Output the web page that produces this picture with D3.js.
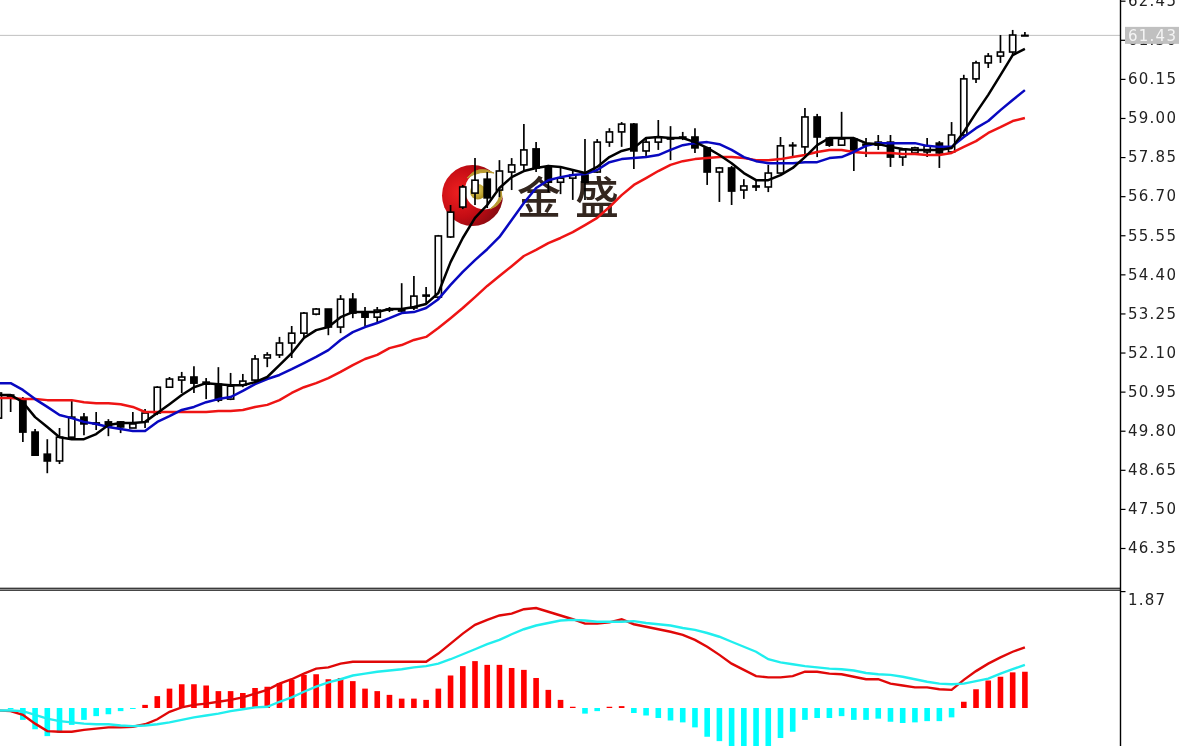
<!DOCTYPE html>
<html><head><meta charset="utf-8">
<script src="https://cdn.jsdelivr.net/npm/d3@7/dist/d3.min.js"></script>
<style>html,body{margin:0;padding:0;background:#fff;overflow:hidden}svg{display:block;filter:blur(0.35px)}</style>
</head><body><div id="c"></div>
<script>
const priceTicks=[62.45,61.30,60.15,59.00,57.85,56.70,55.55,54.40,53.25,52.10,50.95,49.80,48.65,47.50,46.35];
const macdTicks=[1.87];
const lastPrice=61.43;
const open=[50.17,50.85,50.73,49.76,49.11,48.91,49.61,50.20,50.03,50.06,50.06,49.88,50.06,50.32,51.08,51.29,51.38,51.23,51.17,50.73,51.14,51.29,51.94,52.03,52.38,52.67,53.23,53.38,52.85,53.67,53.29,53.14,53.35,53.38,53.41,53.76,53.73,55.50,56.38,56.79,57.20,56.88,57.41,57.62,58.09,57.56,57.11,57.23,57.32,57.41,58.29,58.59,58.82,58.03,58.29,58.38,58.41,58.44,58.12,57.41,57.53,56.88,56.97,56.97,57.38,58.18,58.15,59.03,58.41,58.20,58.38,58.20,58.20,58.29,57.85,57.97,58.00,58.26,58.00,58.50,60.15,60.62,60.82,60.94,61.43];
const high=[50.94,50.85,50.79,49.85,49.55,49.88,50.70,50.32,50.35,50.14,50.08,50.35,50.44,51.11,51.38,51.53,51.70,51.35,51.67,51.50,51.47,52.03,52.11,52.56,52.88,53.29,53.41,53.38,53.79,53.85,53.44,53.44,53.44,54.14,54.35,54.03,55.56,56.44,57.03,57.82,57.41,57.76,57.82,58.82,58.29,57.62,57.53,57.47,58.38,58.38,58.70,58.88,58.85,58.44,58.94,58.76,58.59,58.70,58.15,57.56,57.59,57.20,57.17,57.62,58.44,58.29,59.29,59.12,58.44,59.18,58.41,58.41,58.50,58.50,58.06,58.15,58.41,58.32,58.88,60.27,60.68,60.91,61.44,61.59,61.53];
const low=[50.14,50.35,49.47,49.08,48.55,48.82,49.58,49.67,49.82,49.64,49.73,49.88,49.88,50.26,51.06,50.91,50.91,50.73,50.64,50.70,51.08,51.20,51.67,51.94,51.94,52.53,53.20,52.61,52.67,53.11,52.88,52.99,53.29,53.29,53.35,53.53,53.67,55.47,56.32,56.44,56.35,56.67,56.88,57.41,57.41,56.82,56.76,56.59,56.59,57.38,58.15,58.15,57.50,57.85,58.06,57.76,58.35,57.97,57.03,56.53,56.44,56.62,56.85,56.82,57.38,57.85,57.85,57.85,58.15,58.18,57.44,57.85,58.06,57.56,57.59,57.91,57.85,57.53,58.00,58.44,60.03,60.47,60.62,60.85,61.43];
const close=[50.91,50.76,49.76,49.08,48.91,49.61,50.20,50.00,50.00,49.94,49.91,50.00,50.32,51.08,51.32,51.38,51.20,51.17,50.70,51.11,51.26,51.91,52.03,52.38,52.67,53.26,53.38,52.85,53.67,53.26,53.14,53.35,53.38,53.32,53.76,53.79,55.53,56.23,56.97,57.17,56.65,57.44,57.62,58.06,57.53,57.11,57.23,57.32,57.11,58.29,58.59,58.82,58.03,58.29,58.44,58.41,58.44,58.12,57.41,57.53,56.85,57.00,57.00,57.38,58.18,58.20,59.03,58.44,58.20,58.38,58.00,58.23,58.29,57.85,58.06,58.12,58.18,57.97,58.50,60.15,60.62,60.82,60.94,61.44,61.43];
const maFast=[50.85,50.85,50.64,50.20,49.91,49.61,49.55,49.55,49.70,49.97,50.03,50.03,50.06,50.32,50.58,50.85,51.08,51.20,51.17,51.14,51.14,51.23,51.38,51.73,52.08,52.53,52.76,52.85,53.14,53.29,53.29,53.29,53.38,53.38,53.44,53.53,53.85,54.76,55.47,56.06,56.44,56.94,57.26,57.44,57.53,57.59,57.56,57.47,57.38,57.56,57.85,58.03,58.12,58.41,58.44,58.41,58.41,58.29,58.12,57.91,57.67,57.38,57.17,57.17,57.32,57.53,57.85,58.20,58.41,58.41,58.41,58.26,58.23,58.15,58.09,58.06,58.06,58.06,58.12,58.59,59.15,59.68,60.26,60.85,61.03];
const maMid=[51.20,51.20,51.00,50.73,50.50,50.26,50.17,50.06,50.00,49.91,49.85,49.79,49.79,50.06,50.23,50.41,50.50,50.64,50.73,50.79,50.97,51.17,51.32,51.44,51.61,51.79,51.97,52.17,52.47,52.70,52.85,52.97,53.11,53.26,53.29,53.41,53.67,54.09,54.47,54.82,55.14,55.50,56.00,56.50,56.94,57.17,57.26,57.32,57.35,57.47,57.70,57.79,57.82,57.85,57.91,58.06,58.20,58.26,58.29,58.23,58.06,57.85,57.73,57.67,57.67,57.67,57.70,57.70,57.82,57.85,58.00,58.18,58.26,58.26,58.26,58.26,58.18,58.15,58.15,58.44,58.70,58.91,59.23,59.53,59.82];
const maSlow=[50.76,50.76,50.73,50.73,50.70,50.70,50.70,50.64,50.61,50.61,50.58,50.50,50.35,50.35,50.35,50.35,50.35,50.35,50.38,50.38,50.41,50.50,50.56,50.70,50.91,51.08,51.20,51.35,51.53,51.73,51.91,52.03,52.23,52.32,52.47,52.56,52.82,53.11,53.41,53.73,54.06,54.35,54.64,54.94,55.12,55.32,55.47,55.64,55.85,56.06,56.38,56.73,57.03,57.23,57.44,57.62,57.73,57.79,57.82,57.85,57.85,57.82,57.76,57.76,57.79,57.85,57.91,58.00,58.06,58.06,58.00,57.97,57.97,57.97,57.94,57.94,57.91,57.91,57.97,58.15,58.32,58.56,58.73,58.91,59.00];
const histogram=[0,-0.02,-0.19,-0.34,-0.45,-0.40,-0.27,-0.19,-0.13,-0.10,-0.05,-0.01,0.05,0.19,0.31,0.38,0.38,0.36,0.27,0.27,0.24,0.32,0.34,0.40,0.45,0.53,0.54,0.46,0.48,0.43,0.31,0.27,0.21,0.15,0.15,0.13,0.31,0.52,0.67,0.75,0.69,0.69,0.64,0.61,0.48,0.29,0.13,0.02,-0.09,-0.05,0.02,0.03,-0.08,-0.12,-0.16,-0.20,-0.23,-0.31,-0.46,-0.53,-0.67,-0.67,-0.67,-0.64,-0.48,-0.38,-0.19,-0.16,-0.16,-0.13,-0.19,-0.19,-0.17,-0.22,-0.24,-0.23,-0.21,-0.21,-0.15,0.10,0.30,0.44,0.50,0.57,0.58];
const macdLine=[-0.04,-0.05,-0.11,-0.25,-0.37,-0.38,-0.38,-0.35,-0.33,-0.31,-0.31,-0.30,-0.26,-0.18,-0.06,0.01,0.05,0.07,0.10,0.13,0.17,0.23,0.29,0.39,0.46,0.55,0.63,0.65,0.71,0.74,0.74,0.74,0.74,0.74,0.74,0.74,0.87,1.03,1.19,1.33,1.41,1.48,1.51,1.58,1.60,1.54,1.48,1.42,1.35,1.35,1.37,1.42,1.34,1.30,1.26,1.22,1.17,1.09,0.98,0.85,0.71,0.61,0.51,0.49,0.49,0.51,0.58,0.58,0.55,0.54,0.50,0.46,0.46,0.39,0.36,0.33,0.33,0.30,0.29,0.45,0.59,0.71,0.81,0.90,0.97];
const signalLine=[-0.04,-0.04,-0.05,-0.11,-0.17,-0.21,-0.23,-0.25,-0.26,-0.26,-0.28,-0.29,-0.28,-0.26,-0.23,-0.19,-0.15,-0.12,-0.09,-0.05,-0.02,0.01,0.02,0.10,0.17,0.26,0.34,0.41,0.46,0.52,0.55,0.58,0.60,0.62,0.65,0.67,0.71,0.78,0.86,0.94,1.02,1.09,1.18,1.26,1.32,1.36,1.40,1.41,1.40,1.38,1.38,1.38,1.39,1.36,1.34,1.32,1.28,1.25,1.20,1.14,1.06,0.98,0.90,0.78,0.73,0.70,0.67,0.65,0.63,0.62,0.60,0.56,0.54,0.53,0.50,0.46,0.42,0.39,0.38,0.39,0.43,0.47,0.55,0.62,0.69];

const W=1179,H=746;
const svg=d3.select('#c').append('svg').attr('width',W).attr('height',H).attr('viewBox',`0 0 ${W} ${H}`);
const defs=svg.append('defs');
const idx=d3.range(open.length);
const x=d3.scaleLinear().domain([0,84]).range([-1.58,1024.9]);
const y=d3.scaleLinear().domain([46.35,62.45]).range([548,0.7]);
const yM=d3.scaleLinear().domain([0,1.87]).range([708,591.1]);
const axisX=1120.5;

// watermark logo (behind the marks)
const g1=defs.append('radialGradient').attr('id','cres').attr('cx','0.3').attr('cy','0.45').attr('r','0.75');
g1.append('stop').attr('offset','0').attr('stop-color','#f02020');
g1.append('stop').attr('offset','0.55').attr('stop-color','#c30c14');
g1.append('stop').attr('offset','1').attr('stop-color','#7d0a10');
const g2=defs.append('radialGradient').attr('id','ball').attr('cx','0.4').attr('cy','0.35').attr('r','0.7');
g2.append('stop').attr('offset','0').attr('stop-color','#e8d560');
g2.append('stop').attr('offset','1').attr('stop-color','#a98c1c');
const logo=svg.append('g');
logo.append('circle').attr('cx',472.5).attr('cy',195.5).attr('r',30.5).attr('fill','url(#cres)');
logo.append('circle').attr('cx',484.5).attr('cy',190).attr('r',19.5).attr('fill','#fff');
logo.append('path').attr('d','M467 178 Q478 164 494 173 Q480 170 467 178Z').attr('fill','#b89a30').attr('stroke','#b89a30');
logo.append('path').attr('d','M490 209 Q500 202 501 190 Q505 204 490 209Z').attr('fill','#b89a30').attr('stroke','#b89a30');
logo.append('circle').attr('cx',477.8).attr('cy',191.7).attr('r',7.7).attr('fill','url(#ball)');
logo.append('text').attr('x',517).attr('y',214).attr('font-family','"Noto Sans CJK SC"').attr('font-size',44).attr('font-weight',500).attr('fill','#33261f').text('金');
logo.append('text').attr('x',575).attr('y',214).attr('font-family','"Noto Sans CJK SC"').attr('font-size',44).attr('font-weight',500).attr('fill','#33261f').text('盛');

// current price line
svg.append('line').attr('x1',0).attr('x2',axisX).attr('y1',y(lastPrice)).attr('y2',y(lastPrice)).attr('stroke','#c0c0c0').attr('stroke-width',1);

// candles
const candles=svg.append('g').selectAll('g').data(idx).join('g');
candles.append('line').attr('x1',i=>x(i)).attr('x2',i=>x(i)).attr('y1',i=>y(high[i])).attr('y2',i=>y(low[i])).attr('stroke','#000').attr('stroke-width',1.7);
const bw=7;
candles.append('rect').attr('x',i=>x(i)-bw/2+0.4).attr('width',bw-0.8)
  .attr('y',i=>y(Math.max(open[i],close[i])))
  .attr('height',i=>Math.max(0.6,Math.abs(y(open[i])-y(close[i]))))
  .attr('fill',i=>close[i]>=open[i]?'#fff':'#000').attr('stroke','#000').attr('stroke-width',1.6);

// moving averages
const lineP=d3.line().x((d,i)=>x(i)).y(d=>y(d));
[[maSlow,'#ee1414'],[maMid,'#0808c0'],[maFast,'#000']].forEach(([s,c])=>{
  svg.append('path').attr('d',lineP(s)).attr('fill','none').attr('stroke',c).attr('stroke-width',2.5).attr('stroke-linejoin','round');
});

// MACD panel
svg.append('g').selectAll('rect').data(idx.filter(i=>histogram[i]!==0)).join('rect')
  .attr('x',i=>x(i)-2.8).attr('width',5.6)
  .attr('y',i=>Math.min(yM(0),yM(histogram[i])))
  .attr('height',i=>Math.max(1,Math.abs(yM(histogram[i])-yM(0))))
  .attr('fill',i=>histogram[i]>=0?'#ff0000':'#00ffff');
const lineM=d3.line().x((d,i)=>x(i)).y(d=>yM(d));
svg.append('path').attr('d',lineM(macdLine)).attr('fill','none').attr('stroke','#e00808').attr('stroke-width',2.4);
svg.append('path').attr('d',lineM(signalLine)).attr('fill','none').attr('stroke','#20eeee').attr('stroke-width',2.4);

// frame
svg.append('rect').attr('x',0).attr('y',587.8).attr('width',axisX).attr('height',2.6).attr('fill','#bbb').attr('stroke','none');
svg.append('line').attr('x1',0).attr('x2',axisX).attr('y1',588.2).attr('y2',588.2).attr('stroke','#111').attr('stroke-width',1.1);
svg.append('line').attr('x1',0).attr('x2',axisX).attr('y1',590.3).attr('y2',590.3).attr('stroke','#111').attr('stroke-width',1.1);

// axes
const fmt=d3.format('.2f');
function style(g){
  g.select('.domain').remove();
  g.selectAll('.tick line').attr('stroke','#000').attr('stroke-width',1.2);
  g.selectAll('.tick text').attr('fill','#222').attr('font-family','"DejaVu Sans"').attr('font-size',15).attr('letter-spacing',1.25).attr('x',7.5);
}
const ax1=svg.append('g').attr('transform',`translate(${axisX},0)`).call(d3.axisRight(y).tickValues(priceTicks).tickFormat(fmt).tickSize(5)).call(style);
const ax2=svg.append('g').attr('transform',`translate(${axisX},0)`).call(d3.axisRight(yM).tickValues(macdTicks).tickFormat(fmt).tickSize(5)).call(style);
ax2.selectAll('.tick text').attr('dy','0.88em');
svg.append('line').attr('x1',axisX).attr('x2',axisX).attr('y1',0).attr('y2',H).attr('stroke','#000').attr('stroke-width',1.4);

// current price tag
svg.append('rect').attr('x',1125).attr('y',y(lastPrice)-8.5).attr('width',54).attr('height',17).attr('fill','#c0c0c0');
svg.append('text').attr('x',1128).attr('y',y(lastPrice)+0.5).attr('dy','0.36em').attr('fill','#f4f4f4').attr('font-family','"DejaVu Sans"').attr('font-size',15).attr('letter-spacing',1.25).text(fmt(lastPrice));
</script></body></html>
